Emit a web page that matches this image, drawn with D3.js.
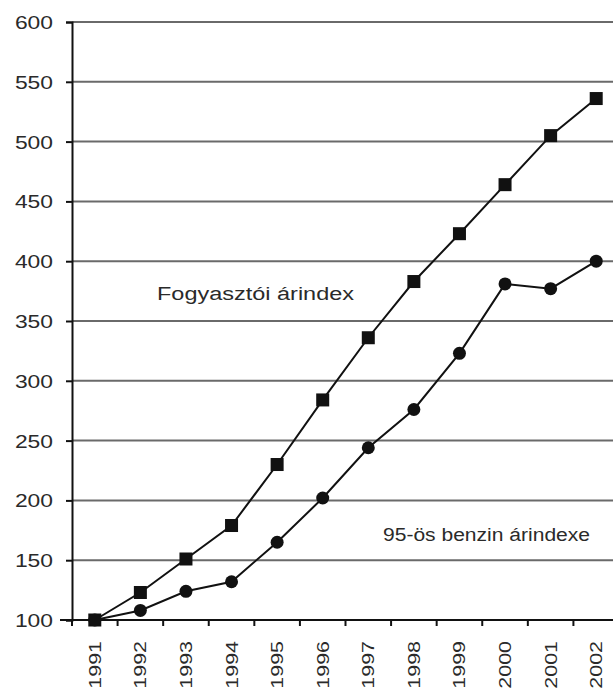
<!DOCTYPE html>
<html>
<head>
<meta charset="utf-8">
<script src="https://cdn.jsdelivr.net/npm/d3@7"></script>
<style>
  body { margin: 0; background: #fff; }
  text { font-family: "Liberation Sans", Arial, sans-serif; fill: #2a2a2a; }
</style>
</head>
<body>
<div id="container"></div>
<script>
//chart data
var years = ['1991', '1992', '1993', '1994', '1995', '1996', '1997', '1998', '1999', '2000', '2001', '2002'];
var fogyasztoi = [100, 123, 151, 179, 230, 284, 336, 383, 423, 464, 505, 536];
var benzin = [100, 108, 124, 132, 165, 202, 244, 276, 323, 381, 377, 400];
var yTicks = [100, 150, 200, 250, 300, 350, 400, 450, 500, 550, 600];

var w = 613;
var h = 688;

var svg = d3.select('#container')
    .append('svg')
    .attr('width', w)
    .attr('height', h);

//scales
var x = d3.scaleBand()
    .domain(years)
    .range([72, 619]);

var y = d3.scaleLinear()
    .domain([100, 600])
    .range([620, 22]);

//horizontal grid lines
svg.append('g')
    .selectAll('line')
    .data(yTicks)
    .enter()
    .append('line')
    .attr('x1', 72)
    .attr('x2', w)
    .attr('y1', function(d) { return y(d); })
    .attr('y2', function(d) { return y(d); })
    .attr('stroke', '#6a6a6a')
    .attr('stroke-width', 2);

//y axis
var yAxis = svg.append('g')
    .attr('transform', 'translate(72,0)')
    .call(d3.axisLeft(y).tickValues(yTicks).tickSize(6).tickPadding(13));
yAxis.select('.domain').attr('stroke', '#111').attr('stroke-width', 2);
yAxis.selectAll('.tick line').attr('stroke', '#111').attr('stroke-width', 2);
yAxis.selectAll('text')
    .attr('x', null)
    .attr('dy', null)
    .attr('dominant-baseline', 'central')
    .attr('transform', 'translate(-19,0) scale(1.27,1)')
    .style('font-size', '18px')
    .style('font-family', '"Liberation Sans", Arial, sans-serif')
    .attr('fill', '#333');

//x axis with ticks between the years
var xAxis = svg.append('g')
    .attr('transform', 'translate(0,620)');
xAxis.append('line')
    .attr('x1', 60)
    .attr('x2', w)
    .attr('stroke', '#111')
    .attr('stroke-width', 2);
xAxis.selectAll('.sep')
    .data(years)
    .enter()
    .append('line')
    .attr('class', 'sep')
    .attr('x1', function(d) { return x(d); })
    .attr('x2', function(d) { return x(d); })
    .attr('y1', 0)
    .attr('y2', 6)
    .attr('stroke', '#111')
    .attr('stroke-width', 2);
xAxis.selectAll('text')
    .data(years)
    .enter()
    .append('text')
    .attr('transform', function(d) {
        return 'translate(' + (x(d) + x.bandwidth() / 2 + 6) + ',21) rotate(-90) scale(1.3,1)';
    })
    .attr('text-anchor', 'end')
    .style('font-size', '16.5px')
    .attr('fill', '#333')
    .text(function(d) { return d; });

//lines
var line = d3.line()
    .x(function(d, i) { return x(years[i]) + x.bandwidth() / 2; })
    .y(function(d) { return y(d); });

svg.append('path')
    .datum(fogyasztoi)
    .attr('fill', 'none')
    .attr('stroke', '#111')
    .attr('stroke-width', 2)
    .attr('d', line);

svg.append('path')
    .datum(benzin)
    .attr('fill', 'none')
    .attr('stroke', '#111')
    .attr('stroke-width', 2)
    .attr('d', line);

//square markers
svg.selectAll('.sq')
    .data(fogyasztoi)
    .enter()
    .append('rect')
    .attr('class', 'sq')
    .attr('x', function(d, i) { return x(years[i]) + x.bandwidth() / 2 - 6.5; })
    .attr('y', function(d) { return y(d) - 6.5; })
    .attr('width', 13)
    .attr('height', 13)
    .attr('fill', '#111');

//circle markers
svg.selectAll('.dot')
    .data(benzin)
    .enter()
    .append('circle')
    .attr('class', 'dot')
    .attr('cx', function(d, i) { return x(years[i]) + x.bandwidth() / 2; })
    .attr('cy', function(d) { return y(d); })
    .attr('r', 6.5)
    .attr('fill', '#111');

//series labels
svg.append('text')
    .attr('x', 157)
    .attr('y', 300)
    .attr('textLength', 197)
    .attr('lengthAdjust', 'spacingAndGlyphs')
    .style('font-size', '18px')
    .text('Fogyasztói árindex');

svg.append('text')
    .attr('x', 383)
    .attr('y', 541)
    .attr('textLength', 207)
    .attr('lengthAdjust', 'spacingAndGlyphs')
    .style('font-size', '18px')
    .text('95-ös benzin árindexe');
</script>
</body>
</html>
